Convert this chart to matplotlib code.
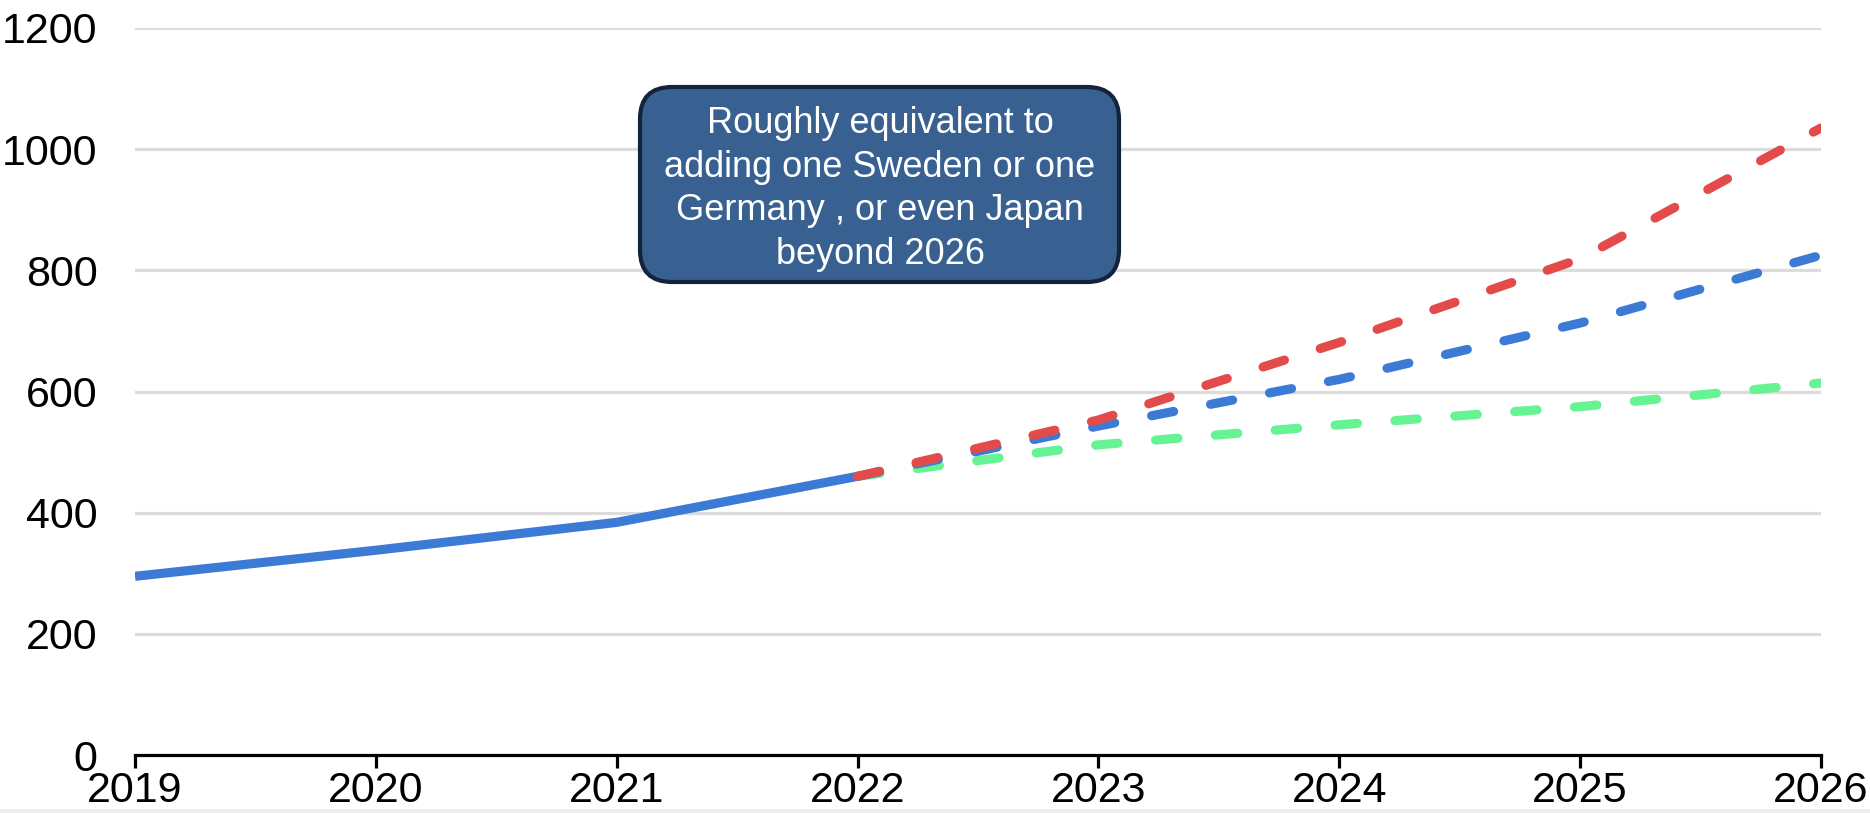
import matplotlib.pyplot as plt
from matplotlib.patches import FancyBboxPatch, Rectangle

plt.rcParams['font.family'] = ['Liberation Sans', 'DejaVu Sans']

# historical values
years_hist = [2019, 2020, 2021, 2022]
hist = [295, 338, 384, 460]

# projections, all starting from the 2022 value
years_proj = [2022, 2023, 2024, 2025, 2026]
proj_high = [460, 553, 681, 819, 1035]
proj_mid = [460, 543, 620, 713, 825]
proj_low = [460, 512, 545, 575, 614]

xticks = [2019, 2020, 2021, 2022, 2023, 2024, 2025, 2026]
yticks = [0, 200, 400, 600, 800, 1000, 1200]

note = "Roughly equivalent to\nadding one Sweden or one\nGermany , or even Japan\nbeyond 2026"

c_red = "#e34b4b"
c_blue = "#3b7bd6"
c_green = "#66f394"

fig = plt.figure(figsize=(18.7, 8.13), dpi=100)
ax = fig.add_axes([0.0722, 0.0713, 0.9016, 0.8943])

ax.set_xlim(2019, 2026)
ax.set_ylim(0, 1200)

for y in yticks[1:]:
    ax.axhline(y, color="#dcdcdc", lw=2.3, zorder=0)

lw = 6.6
dash = (0, (2.45, 4.1))
ax.plot(years_hist, hist, color=c_blue, lw=lw, solid_capstyle="butt", zorder=3)
ax.plot(years_proj, proj_low, color=c_green, lw=lw, ls=dash, dash_capstyle="round", zorder=4)
ax.plot(years_proj, proj_mid, color=c_blue, lw=lw, ls=dash, dash_capstyle="round", zorder=5)
ax.plot(years_proj, proj_high, color=c_red, lw=lw, ls=dash, dash_capstyle="round", zorder=6)

for s in ["top", "right", "left"]:
    ax.spines[s].set_visible(False)
ax.spines["bottom"].set_linewidth(2.3)
ax.spines["bottom"].set_color("black")
ax.spines["bottom"].set_zorder(7)

ax.set_xticks(xticks)
ax.set_xticklabels([str(x) for x in xticks])
ax.set_yticks(yticks)
ax.set_yticklabels([str(y) for y in yticks])
ax.tick_params(axis="x", length=9.5, width=2.3, pad=2, labelsize=31)
ax.tick_params(axis="y", length=0, pad=27, labelsize=31)

# note box
box = FancyBboxPatch((640, 813 - 282), 479, 195, transform=None,
                     boxstyle="round,pad=0,rounding_size=32",
                     facecolor="#386192", edgecolor="#15233a", lw=3, zorder=10)
fig.patches.append(box)
fig.text(880 / 1870, 1 - 189 / 813, note, color="white", fontsize=26,
         ha="center", va="center", linespacing=1.33, zorder=11)

fig.patches.append(Rectangle((0, 0), 1, 4 / 813, transform=fig.transFigure,
                             facecolor="#eeeeee", edgecolor="none"))

fig.savefig("out.png", dpi=100)
